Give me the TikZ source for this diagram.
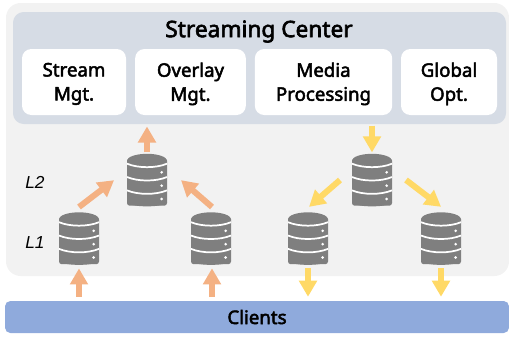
\documentclass[tikz,border=0pt]{standalone}
\usepackage{fontspec}
\setmainfont[AutoFakeBold = 2.6]{Noto Sans}
\newfontfamily\layerfont{Liberation Sans}
\usepackage{xcolor}
\usetikzlibrary{arrows.meta,positioning,calc}
\definecolor{panelgray}{HTML}{F2F2F2}
\definecolor{centerblue}{HTML}{D6DCE5}
\definecolor{clientblue}{HTML}{8FAADC}
\definecolor{upcolor}{HTML}{F4B183}
\definecolor{downcolor}{HTML}{FFD966}
\definecolor{servergray}{HTML}{7F7F7F}
\tikzset{
  modulebox/.style = {fill = white, rounded corners = 7pt, align = center, inner sep = 0pt, text depth = 0.5pt, font = \fontsize{14}{18}\selectfont\bfseries},
  uparrow/.style = {line width = 4.5pt, draw = upcolor, -{Triangle[width = 13pt, length = 12pt]}},
  downarrow/.style = {line width = 4.5pt, draw = downcolor, -{Triangle[width = 13pt, length = 12pt]}},
  layerlabel/.style = {font = \fontsize{13}{14}\selectfont\layerfont\itshape},
  server/.style = {minimum width = 30pt, minimum height = 39.5pt, inner sep = 0pt, path picture = {
    \coordinate (sw) at (path picture bounding box.south west);
    \fill[servergray, rounded corners = 2pt] ($(sw)+(0,.5pt)$) rectangle ($(sw)+(30pt,36pt)$);
    \fill[servergray] ($(sw)+(15pt,34.2pt)$) ellipse (15pt and 5.2pt);
    \fill[servergray] ($(sw)+(15pt,3.2pt)$) ellipse (15pt and 3.2pt);
    \foreach \h in {10.5,20.5,30.5} {
      \draw[white, line width = 1.3pt] ($(sw)+(0,\h pt+1.5pt)$) .. controls ($(sw)+(8pt,\h pt-2pt)$) and ($(sw)+(22pt,\h pt-2pt)$) .. ($(sw)+(30pt,\h pt+1.5pt)$);
      \fill[white] ($(sw)+(26pt,\h pt-5pt)$) circle (1.1pt);
    }
  }}
}
\begin{document}
\begin{tikzpicture}[x = .75pt, y = -.75pt]
    \useasboundingbox (0,0) rectangle (509,337);
    % Panels
    \fill[panelgray, rounded corners = 11pt] (6,3) rectangle (509,276);
    \fill[centerblue, rounded corners = 8pt] (13,12) rectangle (506,124);
    \node[fill = clientblue, rounded corners = 4pt, minimum width = 378pt, minimum height = 24pt, inner sep = 0pt, font = \fontsize{14}{16}\selectfont\bfseries] (clients) at (257,317) {Clients};
    \node[font = \fontsize{17}{20}\selectfont\bfseries] (center) at (259,31.5) {Streaming Center};
    % Modules
    \node[modulebox, minimum width = 78pt, minimum height = 49.5pt] (stream) at (74,82) {Stream\\Mgt.};
    \node[modulebox, minimum width = 83pt, minimum height = 49.5pt] (overlay) at (190.5,82) {Overlay\\Mgt.};
    \node[modulebox, minimum width = 103pt, minimum height = 49.5pt] (media) at (323.5,82) {Media\\Processing};
    \node[modulebox, minimum width = 72pt, minimum height = 49.5pt] (global) at (449,82) {Global\\Opt.};
    % Servers
    \node[server] (upmid) at (147,180) {};
    \node[server] (upleft) at (79,238.5) {};
    \node[server] (upright) at (211,238.5) {};
    \node[server] (downmid) at (372,180) {};
    \node[server] (downleft) at (308,238.5) {};
    \node[server] (downright) at (441,238.5) {};
    \node[layerlabel] (l2) at (35,182) {L2};
    \node[layerlabel] (l1) at (35,243) {L1};
    % Arrow ends
    \coordinate (ua) at (79,207);
    \coordinate (ub) at (113,181);
    \coordinate (uc) at (212,207);
    \coordinate (ud) at (182,181);
    \coordinate (da) at (340,180);
    \coordinate (db) at (310,206);
    \coordinate (dc) at (406,180);
    \coordinate (dd) at (440,206);
    \coordinate (ue) at (212,301);
    \coordinate (uf) at (212,265);
    % Upward
    \draw[uparrow, shorten >= -1pt] (ua) -- (ub);
    \draw[uparrow, shorten >= -1pt] (uc) -- (ud);
    \draw[uparrow, shorten < = .75pt, shorten >= .75pt] (upmid.north) -- (upmid.north |- 0,125.5);
    \draw[uparrow, shorten < = 3pt, shorten >= 2.5pt] (upleft.south |- clients.north) -- (upleft.south);
    \draw[uparrow, shorten < = 3pt, shorten >= 2.5pt] (ue) -- (uf);
    % Downward
    \draw[downarrow, shorten >= -1pt] (da) -- (db);
    \draw[downarrow, shorten >= -1pt] (dc) -- (dd);
    \draw[downarrow, shorten >= .75pt] (downmid.north |- 0,125.5) -- (downmid.north);
    \draw[downarrow, shorten < = 2.5pt, shorten >= 3pt] (downleft.south) -- (downleft.south |- clients.north);
    \draw[downarrow, shorten < = 2.5pt, shorten >= 3pt] (downright.south) -- (downright.south |- clients.north);
  \end{tikzpicture}
\end{document}
